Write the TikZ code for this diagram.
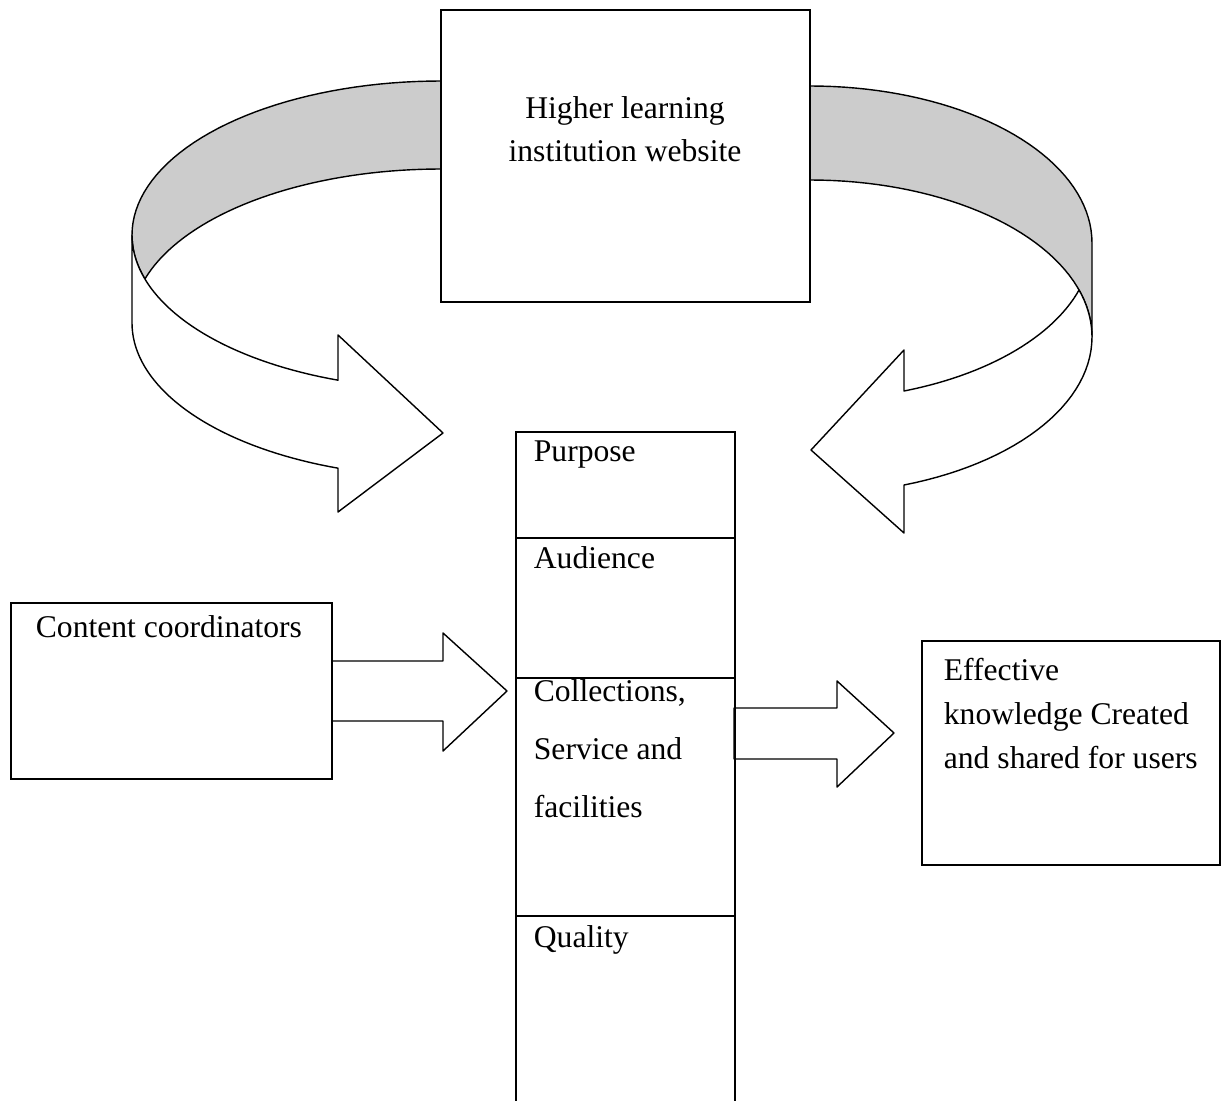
\documentclass[tikz,border=0pt]{standalone}
\usepackage{fontspec}
\setmainfont{Liberation Serif}
\definecolor{ribbongray}{RGB}{204,204,204}
\tikzset{
  lbl/.style={inner sep=0pt, font=\fontsize{18}{24.5}\selectfont},
  ribbon/.style={line width=0.8pt, line join=round},
}
\begin{document}
\begin{tikzpicture}[x=0.02cm,y=-0.02cm,line width=1pt]
\useasboundingbox (0,0) rectangle (1221,1101);
% left ribbon
\filldraw[ribbon,fill=ribbongray] plot[domain=270:180,samples=40,variable=\t] ({441+309*cos(\t)},{235+154*sin(\t)})
  -- plot[domain=180:163.4,samples=10,variable=\t] ({441+309*cos(\t)},{235+154*sin(\t)})
  -- plot[domain=196.6:270,samples=40,variable=\t] ({441+309*cos(\t)},{323+154*sin(\t)});
\filldraw[ribbon,fill=white] (132,235) -- (132,323)
  -- plot[domain=180:109.47,samples=40,variable=\t] ({441+309*cos(\t)},{323+154*sin(\t)})
  -- (338,512) -- (443,433) -- (338,335)
  -- plot[domain=109.47:180,samples=40,variable=\t] ({441+309*cos(\t)},{235+154*sin(\t)}) -- cycle;
% right ribbon
\filldraw[ribbon,fill=ribbongray] plot[domain=270:360,samples=40,variable=\t] ({810+282*cos(\t)},{243+157*sin(\t)})
  -- (1092,337)
  -- plot[domain=360:270,samples=40,variable=\t] ({810+282*cos(\t)},{337+157*sin(\t)});
\filldraw[ribbon,fill=white] plot[domain=17.4:70.53,samples=30,variable=\t] ({810+282*cos(\t)},{243+157*sin(\t)})
  -- (904,350) -- (811,450) -- (904,533)
  -- plot[domain=70.53:0,samples=30,variable=\t] ({810+282*cos(\t)},{337+157*sin(\t)})
  -- plot[domain=360:342.6,samples=10,variable=\t] ({810+282*cos(\t)},{337+157*sin(\t)}) -- cycle;
% boxes
\draw[fill=white] (441,10) rectangle (810,302);
\node[lbl,align=center,anchor=base] (web) at (625,162) {Higher learning\\institution website};
\draw (516,1101) -- (516,432) -- (735,432) -- (735,1101);
\draw (516,538) -- (735,538);
\draw (516,678) -- (735,678);
\draw (516,916) -- (735,916);
\node[lbl,anchor=base west] (purpose) at (533,462) {Purpose};
\node[lbl,anchor=base west] (audience) at (533,568) {Audience};
\node[lbl,anchor=base west,align=left,font=\fontsize{18}{33}\selectfont] (collect) at (533,817) {Collections,\\Service and\\facilities};
\node[lbl,anchor=base west] (quality) at (533,947) {Quality};
\draw (11,603) rectangle (332,779);
\node[lbl,anchor=base west] (content) at (35,637) {Content coordinators};
\draw (922,641) rectangle (1220,865);
\node[lbl,anchor=base west,align=left,font=\fontsize{18}{25}\selectfont] (effect) at (943,768) {Effective\\knowledge Created\\and shared for users};
% block arrows
\draw[ribbon] (332,661) -- (443,661) -- (443,633) -- (507,691) -- (443,751) -- (443,721) -- (332,721);
\draw[ribbon] (734,708) -- (837,708) -- (837,681) -- (894,733) -- (837,787) -- (837,759) -- (734,759) -- cycle;
\end{tikzpicture}
\end{document}
